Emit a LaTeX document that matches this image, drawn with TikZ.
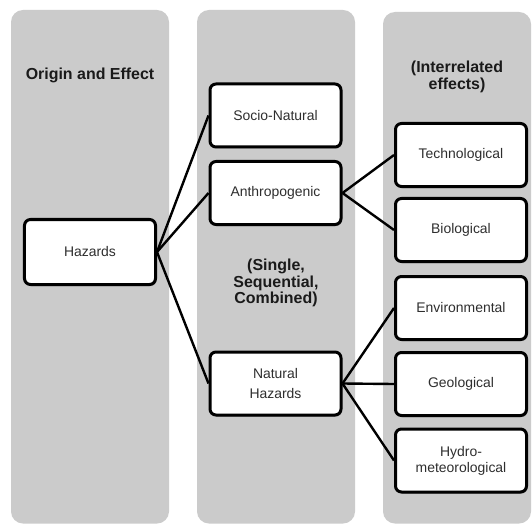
\documentclass[tikz,border=0pt]{standalone}
\usepackage{fontspec}
\setmainfont{Liberation Sans}
\usetikzlibrary{shadows}
\definecolor{colbg}{HTML}{CBCBCB}
\definecolor{boxtext}{HTML}{2E2E2E}
\definecolor{headtext}{HTML}{1A1A1A}
\begin{document}
\begin{tikzpicture}[x=1bp,y=-1bp,
  column/.style={fill=colbg, rounded corners=12bp},
  hbox/.style={draw=black, line width=3bp, fill=white, rounded corners=6bp,
    minimum width=131bp, minimum height=63bp, inner sep=0pt, align=center,
    font=\fontsize{14}{16}\selectfont, text=boxtext,
    drop shadow={shadow xshift=1bp, shadow yshift=-1.5bp, opacity=0.3, fill=black}},
  heading/.style={font=\bfseries\fontsize{16}{16.5}\selectfont, align=center, text=headtext},
  link/.style={line width=2.4bp}]

\useasboundingbox (0,0) rectangle (532,524);
\fill[white] (0,0) rectangle (532,524);

% background columns
\fill[column] (11,10) rectangle (169,523.5);
\fill[column] (197,10) rectangle (355,523.5);
\fill[column] (383,12) rectangle (531,523.5);

% column headings
\node[heading] (hOrigin) at (90,75) {Origin and Effect};
\node[heading] (hMid) at (276,283) {(Single,\\Sequential,\\Combined)};
\node[heading] (hRight) at (457,77) {(Interrelated\\effects)};

% boxes
\node[hbox, minimum height=65bp] (haz) at (90,252) {Hazards};
\node[hbox] (soc) at (275.5,115.5) {Socio-Natural};
\node[hbox] (ant) at (275.5,193) {Anthropogenic};
\node[hbox] (nat) at (275.5,383.5) {Natural\\[4bp]Hazards};
\node[hbox] (tec) at (461,155) {Technological};
\node[hbox] (bio) at (461,230) {Biological};
\node[hbox] (env) at (461,308) {Environmental};
\node[hbox] (geo) at (461,384) {Geological};
\node[hbox] (hyd) at (461,460.5) {Hydro-\\meteorological};

% connectors
\draw[link] (haz.east) -- (soc.west);
\draw[link] (haz.east) -- (ant.west);
\draw[link] (haz.east) -- (nat.west);
\draw[link] (ant.east) -- (tec.west);
\draw[link] (ant.east) -- (bio.west);
\draw[link] (nat.east) -- (env.west);
\draw[link] (nat.east) -- (geo.west);
\draw[link] (nat.east) -- (hyd.west);
\end{tikzpicture}
\end{document}
